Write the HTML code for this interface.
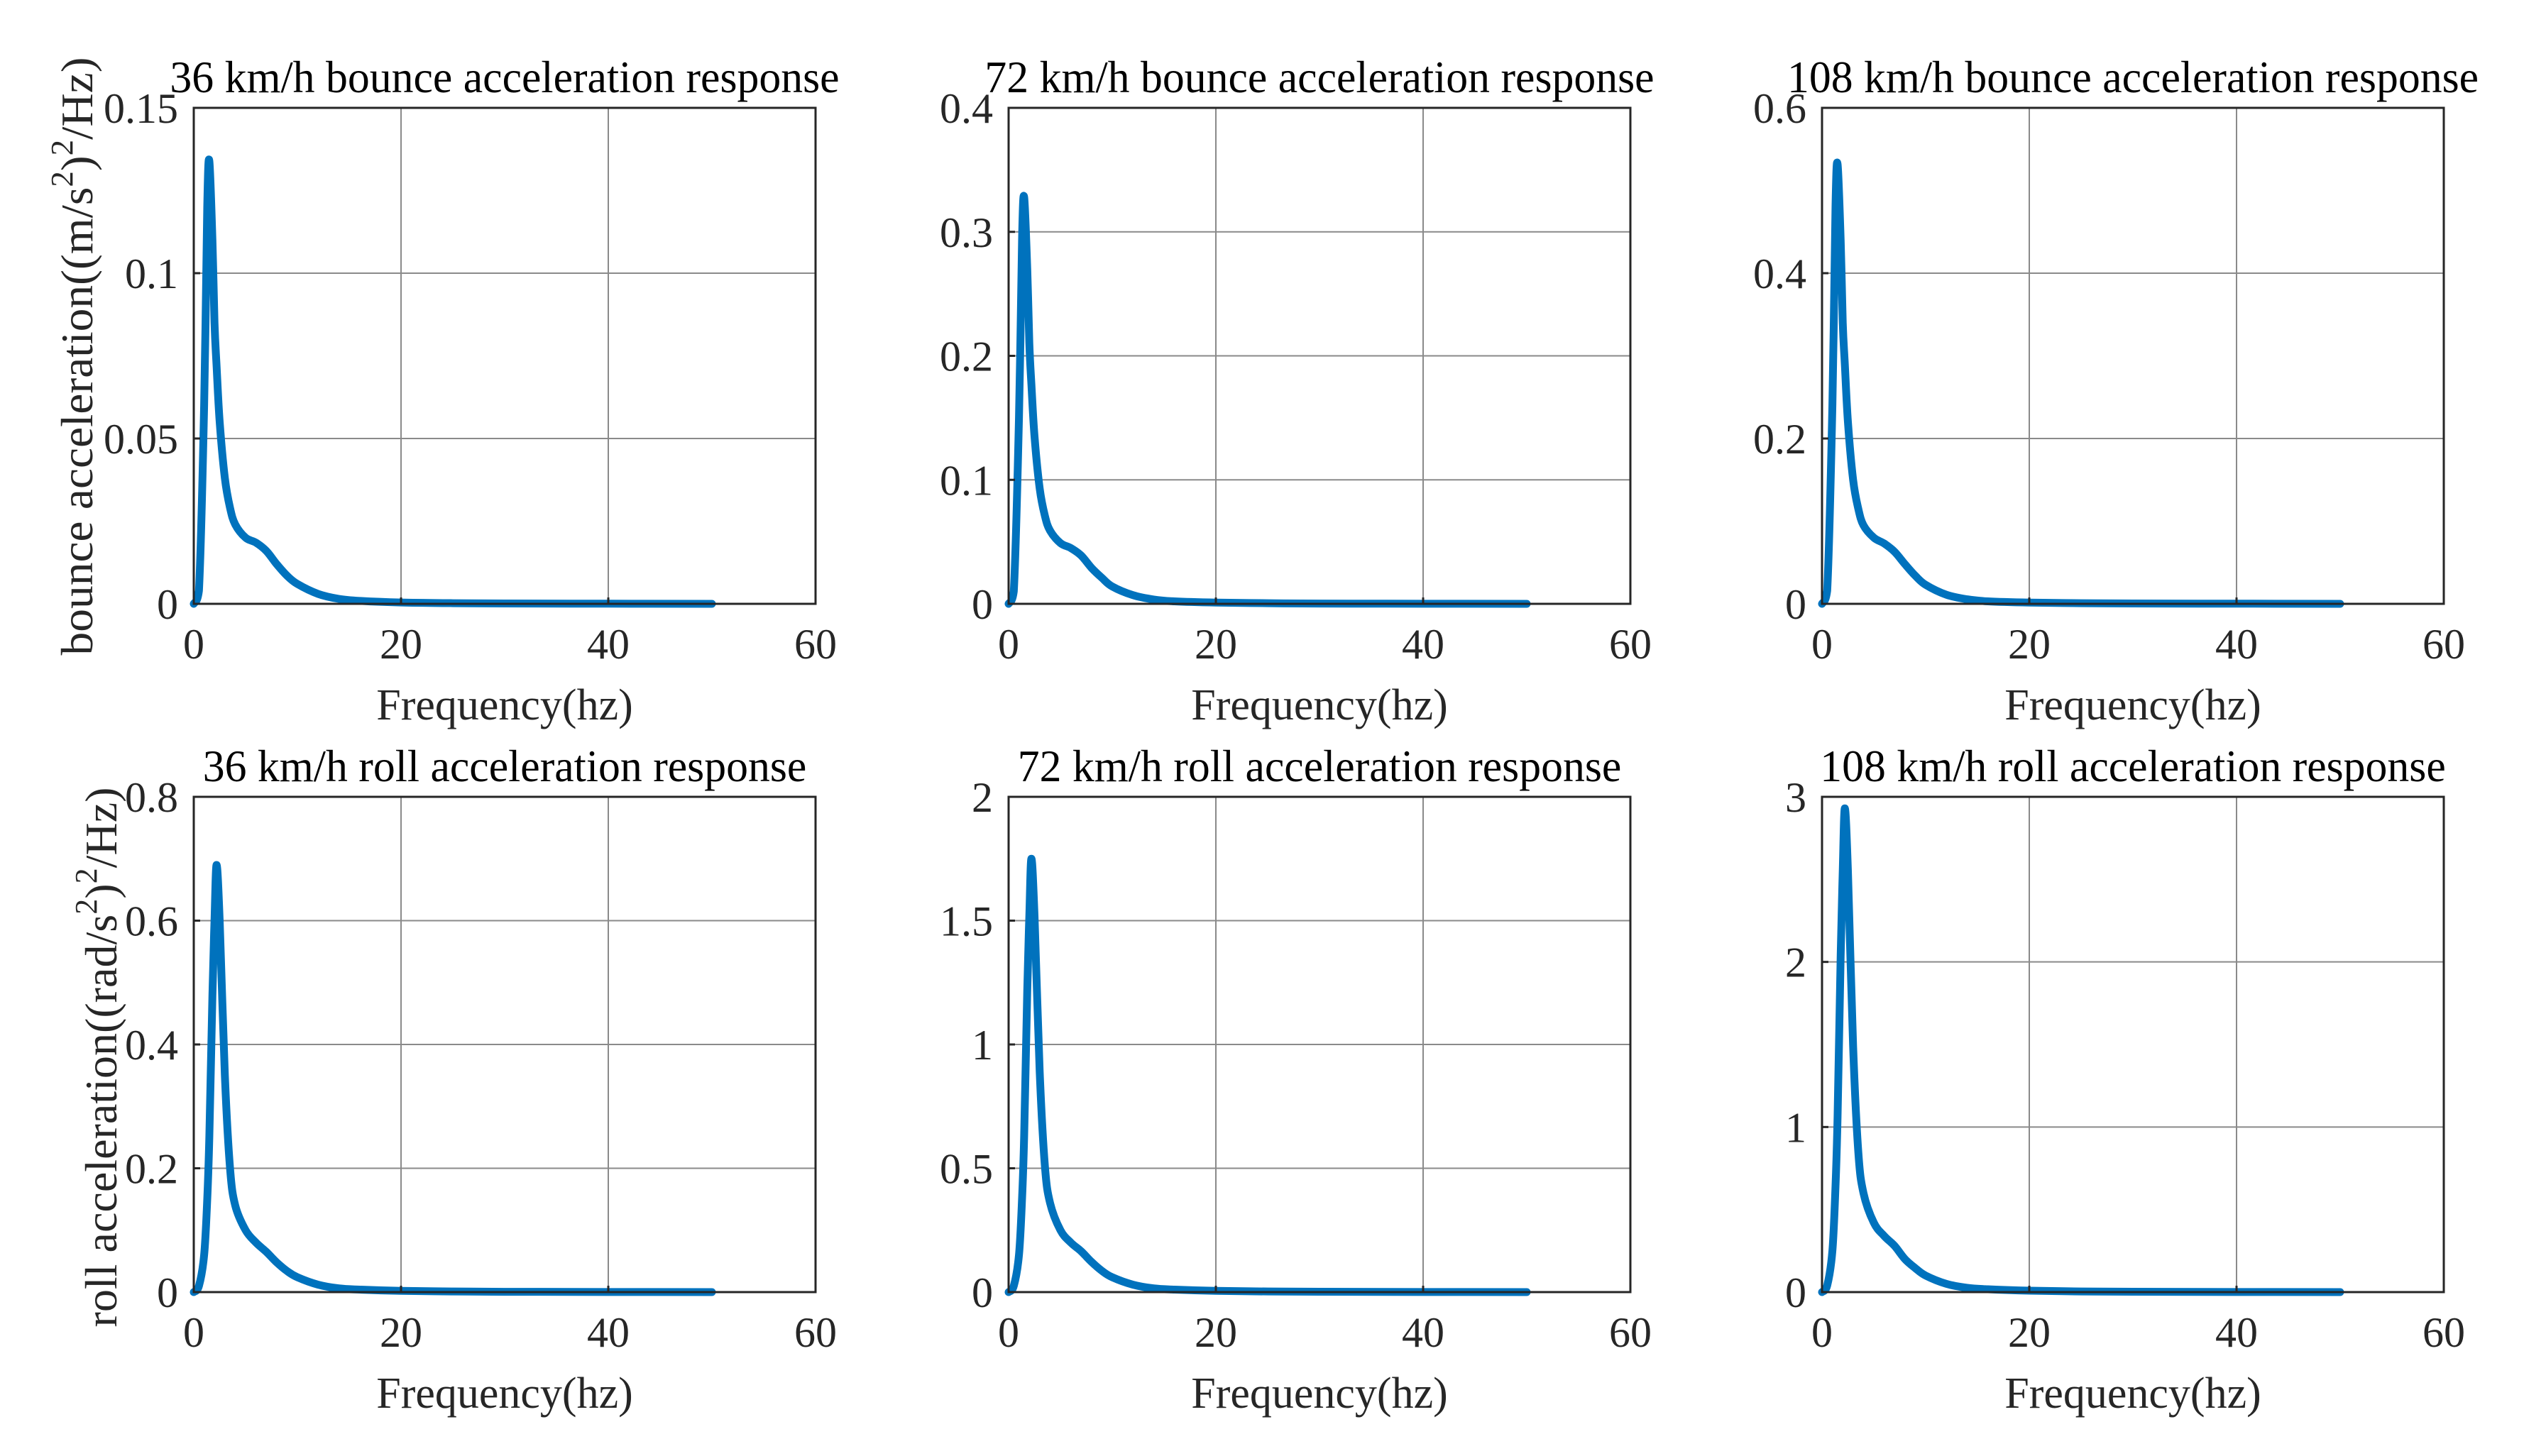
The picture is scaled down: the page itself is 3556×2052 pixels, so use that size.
<!DOCTYPE html>
<html><head><meta charset="utf-8"><style>
html,body{margin:0;padding:0;background:#fff;}
svg{display:block;font-family:"Liberation Serif",serif;}
</style></head><body>
<svg id="fig" width="3556" height="2052" viewBox="0 0 3556 2052" xmlns="http://www.w3.org/2000/svg"></svg>
<script>
const freq = [0,0.5,1,1.3,1.5,1.8,2,2.2,2.5,3,3.5,4,5,6,7,8,9,10,12,14,16,20,25,30,40,50];
const bounce36  = [0,0.004,0.06,0.12,0.134,0.11,0.085,0.072,0.055,0.038,0.029,0.024,0.020,0.0185,0.016,0.012,0.0085,0.006,0.003,0.0015,0.0009,0.0004,0.0002,0.0001,0.00005,0];
const bounce72  = [0,0.01,0.15,0.295,0.328,0.27,0.21,0.177,0.135,0.093,0.071,0.059,0.049,0.045,0.039,0.029,0.021,0.014,0.007,0.0035,0.002,0.001,0.0005,0.0002,0.0001,0];
const bounce108 = [0,0.016,0.24,0.48,0.532,0.44,0.34,0.29,0.22,0.15,0.115,0.095,0.08,0.073,0.063,0.048,0.034,0.023,0.011,0.0055,0.003,0.0015,0.0008,0.0004,0.0002,0];
const roll36  = [0,0.01,0.06,0.15,0.25,0.48,0.6,0.69,0.6,0.35,0.2,0.14,0.1,0.08,0.065,0.048,0.034,0.024,0.012,0.006,0.004,0.002,0.001,0.0005,0.0002,0];
const roll72  = [0,0.025,0.15,0.38,0.63,1.22,1.52,1.75,1.52,0.89,0.51,0.36,0.25,0.2,0.165,0.122,0.086,0.06,0.03,0.015,0.01,0.005,0.0025,0.0013,0.0005,0];
const roll108 = [0,0.04,0.25,0.64,1.06,2.04,2.55,2.93,2.55,1.49,0.85,0.6,0.42,0.34,0.28,0.2,0.145,0.1,0.05,0.026,0.017,0.0085,0.004,0.002,0.0008,0];
const xTicks = [0,20,40,60];
const yTicks36b = [0,0.05,0.1,0.15];
const yTicks72b = [0,0.1,0.2,0.3,0.4];
const yTicks108b = [0,0.2,0.4,0.6];
const yTicks36r = [0,0.2,0.4,0.6,0.8];
const yTicks72r = [0,0.5,1,1.5,2];
const yTicks108r = [0,1,2,3];
const titles = ["36 km/h bounce acceleration response","72 km/h bounce acceleration response","108 km/h bounce acceleration response",
"36 km/h roll acceleration response","72 km/h roll acceleration response","108 km/h roll acceleration response"];

const NS="http://www.w3.org/2000/svg";
const svg=document.getElementById('fig');
function mk(tag,attrs,parent){const e=document.createElementNS(NS,tag);for(const k in attrs)e.setAttribute(k,attrs[k]);(parent||svg).appendChild(e);return e;}

const panels=[
 {x0:273,x1:1149,y0:152,y1:851,data:bounce36,ticks:yTicks36b,name:'bounce-36'},
 {x0:1421,x1:2297,y0:152,y1:851,data:bounce72,ticks:yTicks72b,name:'bounce-72'},
 {x0:2567,x1:3443,y0:152,y1:851,data:bounce108,ticks:yTicks108b,name:'bounce-108'},
 {x0:273,x1:1149,y0:1123,y1:1821,data:roll36,ticks:yTicks36r,name:'roll-36'},
 {x0:1421,x1:2297,y0:1123,y1:1821,data:roll72,ticks:yTicks72r,name:'roll-72'},
 {x0:2567,x1:3443,y0:1123,y1:1821,data:roll108,ticks:yTicks108r,name:'roll-108'}
];

panels.forEach((p,i)=>{
 const g=mk('g',{});
 
 
 const ymax=p.ticks[p.ticks.length-1];
 const sx=v=>p.x0+(v-xTicks[0])/(xTicks[xTicks.length-1]-xTicks[0])*(p.x1-p.x0);
 const sy=v=>p.y1-v/ymax*(p.y1-p.y0);
 xTicks.forEach(t=>{if(t>0&&t<60){const l=mk('line',{x1:sx(t),x2:sx(t),y1:p.y0,y2:p.y1,stroke:'#8a8a8a','stroke-width':2},g);
   }});
 p.ticks.forEach(t=>{if(t>0&&t<ymax){const l=mk('line',{x1:p.x0,x2:p.x1,y1:sy(t),y2:sy(t),stroke:'#8a8a8a','stroke-width':2},g);
   }});
 const pts=freq.map((f,k)=>[sx(f),sy(p.data[k])]);
 let d='M'+pts[0][0]+','+pts[0][1];
 for(let k=0;k<pts.length-1;k++){
  const p0=pts[Math.max(0,k-1)],p1=pts[k],p2=pts[k+1],p3=pts[Math.min(pts.length-1,k+2)];
  const c1=[p1[0]+(p2[0]-p0[0])/6,Math.min(p.y1,p1[1]+(p2[1]-p0[1])/6)];
  const c2=[p2[0]-(p3[0]-p1[0])/6,Math.min(p.y1,p2[1]-(p3[1]-p1[1])/6)];
  d+=' C'+c1[0]+','+c1[1]+' '+c2[0]+','+c2[1]+' '+p2[0]+','+p2[1];
 }
 const path=mk('path',{d:d,fill:'none',stroke:'#0072BD','stroke-width':11,'stroke-linejoin':'round','stroke-linecap':'round'},g);
 
 
 const box=mk('rect',{x:p.x0,y:p.y0,width:p.x1-p.x0,height:p.y1-p.y0,fill:'none',stroke:'#262626','stroke-width':3},g);
 
 
 xTicks.forEach(t=>{
  const tk=mk('line',{x1:sx(t),x2:sx(t),y1:p.y1,y2:p.y1-9,stroke:'#262626','stroke-width':3},g);
  
  const tx=mk('text',{x:sx(t),y:p.y1+77,'text-anchor':'middle','font-size':60,fill:'#262626'},g);
  tx.textContent=String(t);
  
 });
 p.ticks.forEach(t=>{
  const tk=mk('line',{x1:p.x0,x2:p.x0+9,y1:sy(t),y2:sy(t),stroke:'#262626','stroke-width':3},g);
  
  const tx=mk('text',{x:p.x0-22,y:sy(t)+21,'text-anchor':'end','font-size':60,fill:'#262626'},g);
  tx.textContent=String(t);
  
 });
 const xl=mk('text',{x:(p.x0+p.x1)/2,y:p.y1+163,'text-anchor':'middle','font-size':62,fill:'#262626'},g);
 xl.textContent='Frequency(hz)';
 
 const tt=mk('text',{x:(p.x0+p.x1)/2,y:p.y0-22,'text-anchor':'middle','font-size':64,fill:'#000'},g);
 tt.textContent=titles[i];
 
 const w=tt.getComputedTextLength();
 tt.setAttribute('textLength',(w*0.965).toFixed(1));
 tt.setAttribute('lengthAdjust','spacingAndGlyphs');
});
</script>
<svg style="position:absolute;left:0;top:0" width="3556" height="2052">
 <text transform="translate(130,502) rotate(-90)" text-anchor="middle" font-size="64" fill="#262626" font-family="Liberation Serif, serif" textLength="843" lengthAdjust="spacingAndGlyphs">bounce acceleration((m/s<tspan font-size="44" dy="-28">2</tspan><tspan dy="28">)</tspan><tspan font-size="44" dy="-28">2</tspan><tspan dy="28">/Hz)</tspan></text>
 <text transform="translate(164,1490) rotate(-90)" text-anchor="middle" font-size="64" fill="#262626" font-family="Liberation Serif, serif" textLength="761" lengthAdjust="spacingAndGlyphs">roll acceleration((rad/s<tspan font-size="44" dy="-28">2</tspan><tspan dy="28">)</tspan><tspan font-size="44" dy="-28">2</tspan><tspan dy="28">/Hz)</tspan></text>
</svg>
</body></html>
